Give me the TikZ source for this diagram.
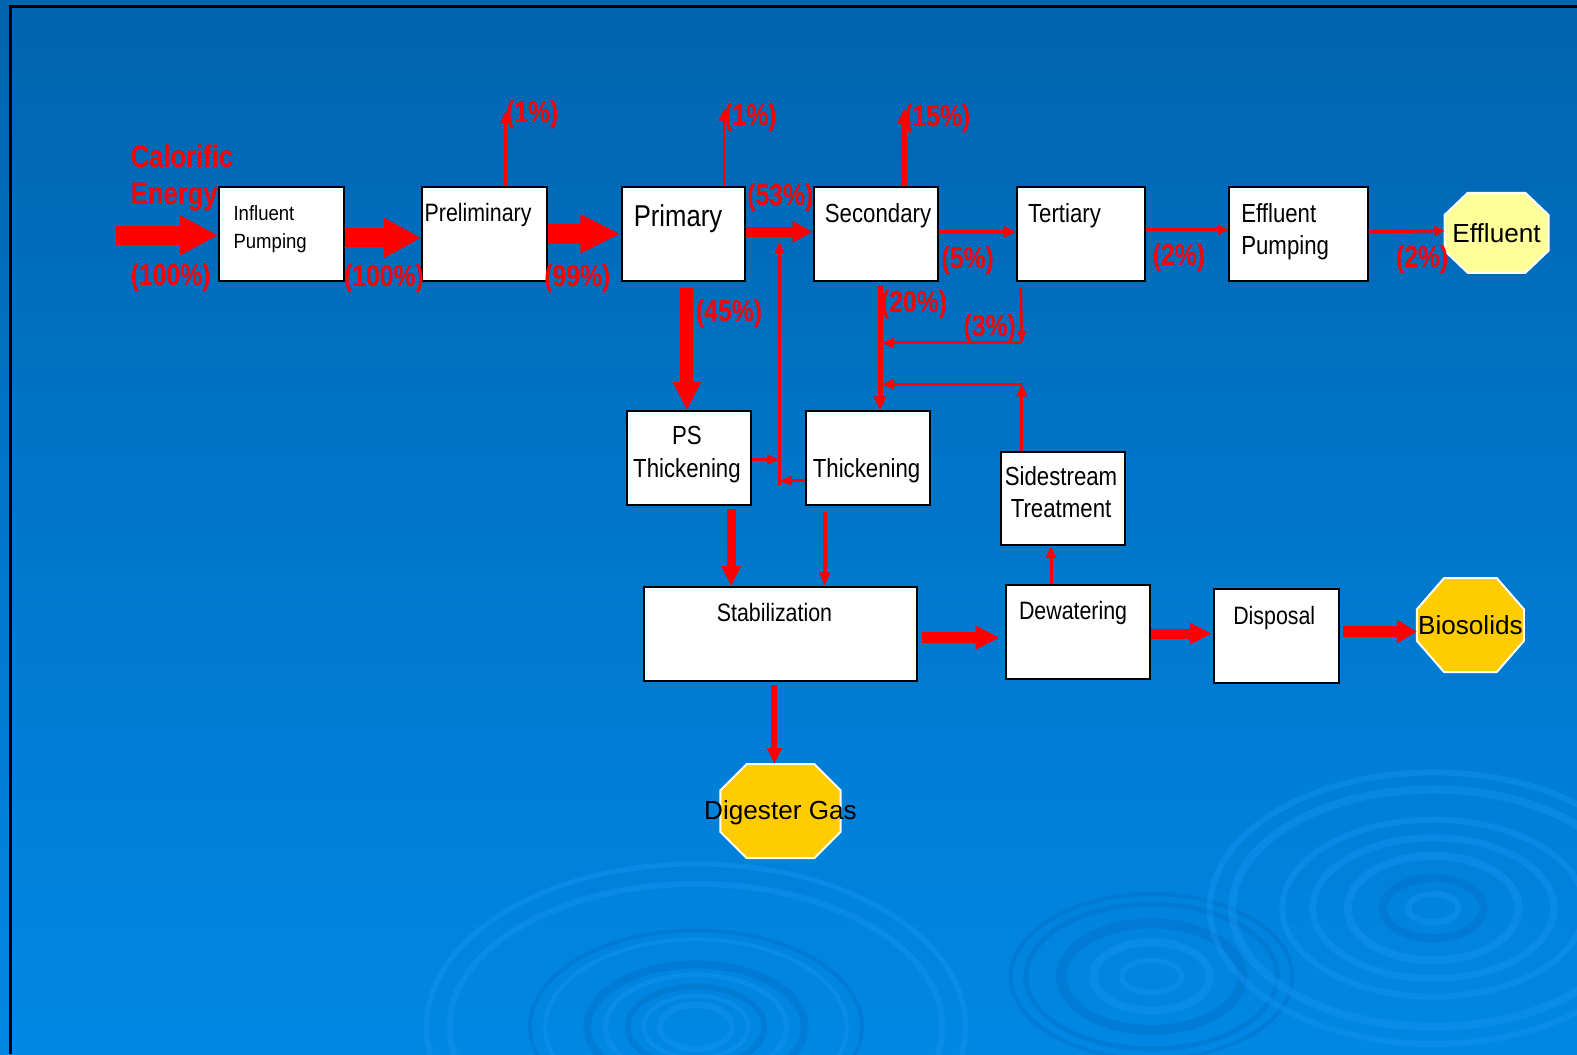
\documentclass[tikz,border=0pt]{standalone}
\usepackage{fontspec}
\setmainfont{Liberation Sans}
\newfontfamily\bxf[FakeStretch=0.85]{Liberation Sans}
\newfontfamily\bxw[FakeStretch=0.9]{Liberation Sans}
\newfontfamily\lbf[FakeStretch=0.82]{Liberation Sans Bold}
\usetikzlibrary{arrows.meta,calc}
\definecolor{bgtop}{RGB}{0,100,175}
\definecolor{bgbot}{RGB}{0,136,228}
\definecolor{ringL}{RGB}{20,148,240}
\definecolor{ringD}{RGB}{0,112,200}
\definecolor{paleY}{RGB}{255,255,153}
\definecolor{gold}{RGB}{255,204,0}
\definecolor{flowred}{RGB}{255,0,0}
% #1 node name, #2 cut x, #3 cut y, #4 fill colour
\newcommand\myocto[4]{%
  \filldraw[fill=#4, draw=white, line width=2pt]
    ($(#1.north west)+(#2,0)$) -- ($(#1.north east)+(-#2,0)$) --
    ($(#1.north east)+(0,#3)$) -- ($(#1.south east)+(0,-#3)$) --
    ($(#1.south east)+(-#2,0)$) -- ($(#1.south west)+(#2,0)$) --
    ($(#1.south west)+(0,-#3)$) -- ($(#1.north west)+(0,#3)$) -- cycle;}
\begin{document}
\begin{tikzpicture}[x=1pt,y=-1pt,
  box/.style={draw=black, line width=2pt, fill=white, inner sep=0pt},
  octo/.style={inner sep=0pt},
  bt/.style={font=\bxf\fontsize{26}{32}\selectfont, inner sep=0pt, align=left, anchor=north west},
  ot/.style={font=\fontsize{26}{30}\selectfont, inner sep=0pt},
  lab/.style={text=flowred, font=\lbf\fontsize{30}{30}\selectfont, inner sep=0pt, anchor=west},
  flow/.style n args={3}{draw=flowred, line width=#1, line cap=butt, -{Triangle[width=#2,length=#3]}},
  ring/.style n args={2}{draw=#1, line width=#2}
]
\useasboundingbox (0,0) rectangle (1568,1048);
% background
\shade[top color=bgtop, bottom color=bgbot] (0,0) rectangle (1568,1048);
\begin{scope}
\clip (0,0) rectangle (1568,1048);
% ripple A
\foreach \rx/\ry/\c/\w in {268/162/ringL/5, 245/142/ringL/6, 165/96/ringD/4, 150/87/ringL/4, 108/62/ringD/8, 90/52/ringL/5, 68/40/ringD/6, 52/31/ringL/4, 36/22/ringL/6}
  \draw[ring={\c}{\w pt}, opacity=0.45] (692,1021) ellipse [x radius=\rx, y radius=\ry];
% ripple B
\foreach \rx/\ry/\c/\w in {140/82/ringD/4, 125/72/ringD/5, 90/53/ringD/10, 58/34/ringL/8, 30/16/ringL/5}
  \draw[ring={\c}{\w pt}, opacity=0.45] (1145,971) ellipse [x radius=\rx, y radius=\ry];
% ripple C
\foreach \rx/\ry/\c/\w in {222/135/ringL/6, 200/118/ringL/8, 150/88/ringL/6, 120/70/ringL/7, 85/52/ringL/8, 50/30/ringD/8, 25/14/ringL/6}
  \draw[ring={\c}{\w pt}, opacity=0.45] (1425,903) ellipse [x radius=\rx, y radius=\ry];
\end{scope}
% frame lines
\draw[black, line width=3pt] (10.5,1048) -- (10.5,6.5) -- (1568,6.5);

% boxes
\node[box, minimum width=124pt, minimum height=93pt] (infp)   at (280,232.5) {};
\node[box, minimum width=124pt, minimum height=93pt] (prelim) at (482,232.5) {};
\node[box, minimum width=123pt, minimum height=93pt] (prim)   at (679.5,232.5) {};
\node[box, minimum width=124pt, minimum height=93pt] (sec)    at (871,232.5) {};
\node[box, minimum width=127pt, minimum height=93pt] (tert)   at (1074.5,232.5) {};
\node[box, minimum width=138pt, minimum height=93pt] (effp)   at (1291,232.5) {};
\node[box, minimum width=124pt, minimum height=93pt] (psth)   at (685,455.5) {};
\node[box, minimum width=124pt, minimum height=93pt] (thick)  at (863,455.5) {};
\node[box, minimum width=124pt, minimum height=93pt] (side)   at (1057,495.5) {};
\node[box, minimum width=272pt, minimum height=93pt] (stab)   at (776,630.5) {};
\node[box, minimum width=143pt, minimum height=93pt] (dew)    at (1071.5,628.5) {};
\node[box, minimum width=124pt, minimum height=93pt] (disp)   at (1269,632.5) {};
% octagons
\node[octo, minimum width=103pt, minimum height=79pt] (eff) at (1488,231.5) {};
\myocto{eff}{23}{22}{paleY}
\node[octo, minimum width=106pt, minimum height=93pt] (bio) at (1462,621.5) {};
\myocto{bio}{27}{31}{gold}
\node[octo, minimum width=119pt, minimum height=93pt] (gas) at (776,806.5) {};
\myocto{gas}{26}{26}{gold}

% box texts
\node[bt, font=\bxw\fontsize{20.5}{28}\selectfont] (t-infp) at (232,204) {Influent\\Pumping};
\node[bt, font=\bxf\fontsize{25}{30}\selectfont] (t-prelim) at (422,202) {Preliminary};
\node[bt, font=\bxf\fontsize{30}{34}\selectfont] (t-prim) at (630,203) {Primary};
\node[bt] (t-sec) at (820,202) {Secondary};
\node[bt] (t-tert) at (1022,202) {Tertiary};
\node[bt] (t-effp) at (1234,202) {Effluent\\Pumping};
\node[bt, anchor=north, align=center] (t-psth) at (683,424) {PS\\Thickening};
\node[bt] (t-thick) at (808,456) {Thickening};
\node[bt, anchor=north, align=center] (t-side) at (1055,464) {Sidestream\\Treatment};
\node[bt, anchor=north, font=\bxf\fontsize{25}{30}\selectfont] (t-stab) at (770,600) {Stabilization};
\node[bt, font=\bxf\fontsize{25}{30}\selectfont] (t-dew) at (1013,598) {Dewatering};
\node[bt, font=\bxf\fontsize{25}{30}\selectfont] (t-disp) at (1226,603) {Disposal};
\node[ot] (t-eff) at (1488,232) {Effluent};
\node[ot] (t-bio) at (1462,622) {Biosolids};
\node[ot] (t-gas) at (776,808) {Digester Gas};

% red labels
\node[lab, anchor=north west, align=left, font=\lbf\fontsize{31}{37}\selectfont] (l-cal) at (130,144) {Calorific\\Energy};
\node[lab] (l-100a) at (130,276) {(100\%)};
\node[lab] (l-100b) at (342,277) {(100\%)};
\node[lab] (l-99) at (541,277) {(99\%)};
\node[lab] (l-1a) at (503,114) {(1\%)};
\node[lab] (l-1b) at (720,117) {(1\%)};
\node[lab] (l-15) at (899,118) {(15\%)};
\node[lab] (l-53) at (743,197) {(53\%)};
\node[lab] (l-5) at (936,259) {(5\%)};
\node[lab] (l-2a) at (1146,256) {(2\%)};
\node[lab] (l-2b) at (1388,258) {(2\%)};
\node[lab] (l-45) at (692,312) {(45\%)};
\node[lab] (l-20) at (876,303) {(20\%)};
\node[lab] (l-3) at (958,327) {(3\%)};

% main line
\coordinate (cal) at (115,234);
\draw[flow={19pt}{37pt}{38pt}] (cal) -- (cal -| infp.west);
\draw[flow={19pt}{37pt}{37pt}] ($(infp.east)+(0,4)$) -- ($(prelim.west)+(0,4)$);
\draw[flow={20pt}{36pt}{40pt}] (prelim.east) -- (prim.west);
\draw[flow={10pt}{20pt}{20pt}] ($(prim.east)+(0,-2)$) -- ($(sec.west)+(0,-2)$);
\draw[flow={3.5pt}{11pt}{12pt}] ($(sec.east)+(0,-2)$) -- ($(tert.west)+(0,-2)$);
\draw[flow={3pt}{10pt}{10pt}] ($(tert.east)+(0,-4)$) -- ($(effp.west)+(0,-4)$);
\draw[flow={3pt}{10pt}{10pt}] ($(effp.east)+(0,-2)$) -- ($(eff.west)+(0,-2)$);
% losses upward
\coordinate (u1) at (503,110);
\coordinate (u2) at (720,108);
\coordinate (u3) at (899,108);
\draw[flow={3pt}{10pt}{12pt}] (prelim.north -| u1) -- (u1);
\draw[flow={2.5pt}{10pt}{12pt}] (prim.north -| u2) -- (u2);
\draw[flow={6pt}{13pt}{15pt}] (sec.north -| u3) -- (u3);
% downward
\draw[flow={13pt}{26pt}{28pt}] ($(prim.south -| psth.north)+(-2,6)$) -- ($(psth.north)+(-2,0)$);
\draw[flow={5pt}{12pt}{14pt}] ($(sec.south)+(4,4)$) -- ($(thick.north)+(12,0)$);
\coordinate (j1) at (1016,341);
\coordinate (m1) at (877,341);
\draw[flow={2.5pt}{9pt}{12pt}] ($(tert.south west)+(5,6)$) -- (j1);
\draw[flow={3pt}{10pt}{12pt}] (j1) -- (m1);
\coordinate (j2) at (1016,382);
\coordinate (m2) at (877,382);
\draw[flow={3pt}{10pt}{12pt}] (side.north -| j2) -- (j2);
\draw[flow={3pt}{10pt}{12pt}] (j2) -- (m2);
% recycle
\coordinate (r1) at (775,482);
\coordinate (r2) at (775,240);
\draw[flow={2.5pt}{9pt}{12pt}] (r1) -- (r2);
\draw[flow={2.5pt}{9pt}{12pt}] ($(psth.east)+(0,1.5)$) -- ($(r1 |- psth.east)+(0,1.5)$);
\draw[flow={2.5pt}{9pt}{12pt}] ($(thick.west)+(0,22.5)$) -- ($(r1 |- thick.west)+(0,22.5)$);
% solids
\draw[flow={9pt}{18pt}{20pt}] ($(psth.south)+(42,3)$) -- ($(stab.north -| psth.south)+(42,0)$);
\draw[flow={4pt}{10pt}{14pt}] ($(thick.south)+(-43,6)$) -- ($(stab.north -| thick.south)+(-43,0)$);
\draw[flow={3pt}{10pt}{12pt}] ($(dew.north)+(-26.5,0)$) -- ($(side.south -| dew.north)+(-26.5,0)$);
\draw[flow={11pt}{22pt}{24pt}] ($(stab.east)+(4,3.5)$) -- ($(dew.west)+(-5,5.5)$);
\draw[flow={10pt}{20pt}{22pt}] ($(dew.east)+(0,1.5)$) -- ($(disp.west)+(-1,-2.5)$);
\draw[flow={11pt}{22pt}{20pt}] ($(disp.east)+(3,-4.5)$) -- ($(bio.west)+(0,6.5)$);
\draw[flow={6pt}{14pt}{16pt}] ($(stab.south)+(-6,3)$) -- ($(gas.north)+(-6,0)$);
\end{tikzpicture}
\end{document}
